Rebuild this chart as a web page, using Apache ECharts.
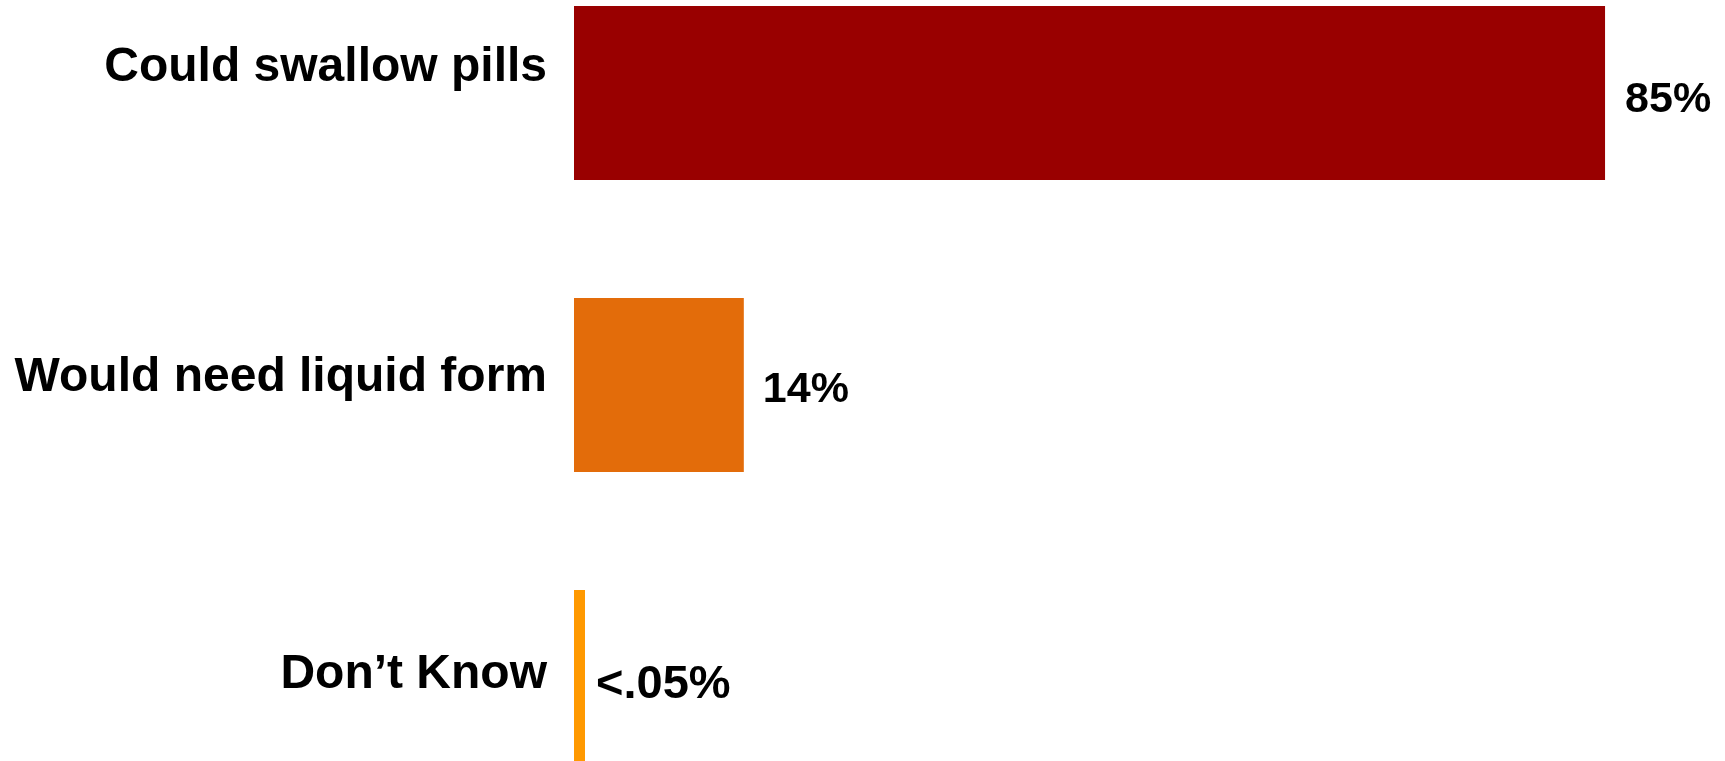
<!DOCTYPE html>
<html>
<head>
<meta charset="utf-8">
<script src="https://cdn.jsdelivr.net/npm/echarts@6/dist/echarts.min.js"></script>
<style>
html,body{margin:0;padding:0;background:#fff;overflow:hidden;width:1725px;height:761px;}
#chart{position:absolute;left:0;top:-53px;width:1787px;height:876px;}
</style>
</head>
<body>
<div id="chart"></div>
<script>
const categories = ['Could swallow pills', 'Would need liquid form', 'Don\u2019t Know'];
const values = [85, 14, 0.05];
const valueLabels = ['85%', '14%', '<.05%'];
const colors = ['#990000', '#E36C0A', '#FF9900'];

const catShift = [50, 14, 4];
const valOffsetY = [7, 5, 8];
const valDist = [20, 19, 11];
const valSize = [43, 43, 47];

const chart = echarts.init(document.getElementById('chart'));
const font = '"Liberation Sans", Arial, sans-serif';
const rich = {};
catShift.forEach((p, i) => {
  rich['c' + i] = {fontFamily: font, fontWeight: 'bold', fontSize: 48, color: '#000', padding: [0, 0, p, 0]};
});
chart.setOption({
  animation: false,
  backgroundColor: '#fff',
  grid: {left: 574, top: 0, right: 0, bottom: 0, containLabel: false},
  xAxis: {type: 'value', min: 0, max: 100, show: false},
  yAxis: {
    type: 'category', inverse: true, data: categories,
    axisLine: {show: false}, axisTick: {show: false}, splitLine: {show: false},
    axisLabel: {
      margin: 27,
      formatter: (v, i) => '{c' + i + '|' + v + '}',
      rich: rich
    }
  },
  series: [{
    type: 'bar',
    barWidth: 174,
    barMinHeight: 11,
    data: values.map((v, i) => ({
      value: v,
      itemStyle: {color: colors[i]},
      label: {distance: valDist[i], offset: [0, valOffsetY[i]], fontSize: valSize[i]}
    })),
    label: {
      show: true, position: 'right',
      formatter: p => valueLabels[p.dataIndex],
      fontFamily: font, fontWeight: 'bold', color: '#000'
    }
  }]
});
</script>
</body>
</html>
